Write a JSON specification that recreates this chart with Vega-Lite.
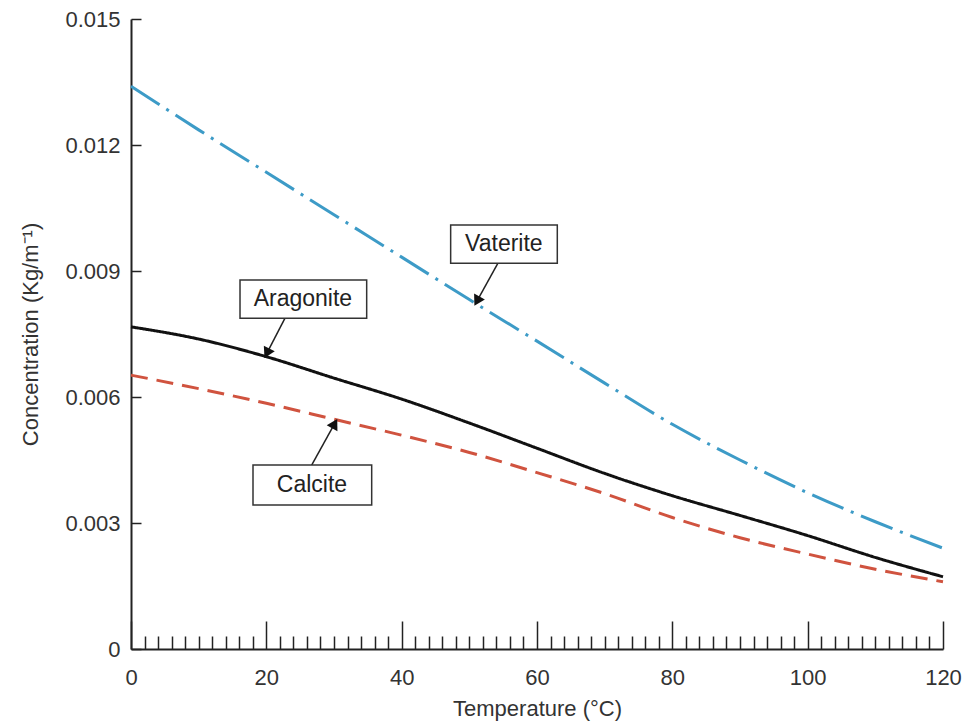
{
  "$schema": "https://vega.github.io/schema/vega-lite/v6.json",
  "width": 812,
  "height": 630,
  "autosize": "none",
  "padding": {"left": 131, "top": 19, "right": 20, "bottom": 77},
  "background": "white",
  "config": {
    "font": "Liberation Sans",
    "view": {"stroke": null}
  },
  "datasets": {
    "curves": [
      {"T": 0, "mineral": "Vaterite", "c": 0.01340},
      {"T": 10, "mineral": "Vaterite", "c": 0.01236},
      {"T": 20, "mineral": "Vaterite", "c": 0.01135},
      {"T": 30, "mineral": "Vaterite", "c": 0.01034},
      {"T": 40, "mineral": "Vaterite", "c": 0.00933},
      {"T": 50, "mineral": "Vaterite", "c": 0.00832},
      {"T": 60, "mineral": "Vaterite", "c": 0.00733},
      {"T": 70, "mineral": "Vaterite", "c": 0.00633},
      {"T": 80, "mineral": "Vaterite", "c": 0.00535},
      {"T": 90, "mineral": "Vaterite", "c": 0.00450},
      {"T": 100, "mineral": "Vaterite", "c": 0.00372},
      {"T": 110, "mineral": "Vaterite", "c": 0.00303},
      {"T": 120, "mineral": "Vaterite", "c": 0.00240},
      {"T": 0, "mineral": "Aragonite", "c": 0.00767},
      {"T": 10, "mineral": "Aragonite", "c": 0.00738},
      {"T": 20, "mineral": "Aragonite", "c": 0.00696},
      {"T": 30, "mineral": "Aragonite", "c": 0.00645},
      {"T": 40, "mineral": "Aragonite", "c": 0.00595},
      {"T": 50, "mineral": "Aragonite", "c": 0.00538},
      {"T": 60, "mineral": "Aragonite", "c": 0.00478},
      {"T": 70, "mineral": "Aragonite", "c": 0.00418},
      {"T": 80, "mineral": "Aragonite", "c": 0.00365},
      {"T": 90, "mineral": "Aragonite", "c": 0.00318},
      {"T": 100, "mineral": "Aragonite", "c": 0.00270},
      {"T": 110, "mineral": "Aragonite", "c": 0.00218},
      {"T": 120, "mineral": "Aragonite", "c": 0.00172},
      {"T": 0, "mineral": "Calcite", "c": 0.00652},
      {"T": 10, "mineral": "Calcite", "c": 0.00620},
      {"T": 20, "mineral": "Calcite", "c": 0.00585},
      {"T": 30, "mineral": "Calcite", "c": 0.00547},
      {"T": 40, "mineral": "Calcite", "c": 0.00509},
      {"T": 50, "mineral": "Calcite", "c": 0.00468},
      {"T": 60, "mineral": "Calcite", "c": 0.00420},
      {"T": 70, "mineral": "Calcite", "c": 0.00370},
      {"T": 80, "mineral": "Calcite", "c": 0.00313},
      {"T": 90, "mineral": "Calcite", "c": 0.00265},
      {"T": 100, "mineral": "Calcite", "c": 0.00226},
      {"T": 110, "mineral": "Calcite", "c": 0.00190},
      {"T": 120, "mineral": "Calcite", "c": 0.00160}
    ],
    "notes": [
      {"label": "Vaterite", "bx1": 47.24, "bx2": 63.0, "by1": 0.009184, "by2": 0.010095, "tx": 55.1, "ty": 0.00964, "ax1": 54.23, "ay1": 0.00919, "ax2": 51.25, "ay2": 0.00832, "angle": 208.7},
      {"label": "Aragonite", "bx1": 16.11, "bx2": 34.83, "by1": 0.007874, "by2": 0.008786, "tx": 25.4, "ty": 0.00833, "ax1": 22.76, "ay1": 0.00788, "ax2": 20.2, "ay2": 0.00708, "angle": 207},
      {"label": "Calcite", "bx1": 18.03, "bx2": 35.57, "by1": 0.003429, "by2": 0.004381, "tx": 26.75, "ty": 0.00390, "ax1": 26.7, "ay1": 0.00438, "ax2": 29.97, "ay2": 0.00533, "angle": 29}
    ]
  },
  "layer": [
    {
      "data": {"name": "curves"},
      "mark": {"type": "line", "interpolate": "monotone", "strokeWidth": 3, "strokeCap": "butt"},
      "encoding": {
        "x": {
          "field": "T", "type": "quantitative",
          "scale": {"domain": [0, 120], "nice": false},
          "axis": {
            "values": [0,2,4,6,8,10,12,14,16,18,20,22,24,26,28,30,32,34,36,38,40,42,44,46,48,50,52,54,56,58,60,62,64,66,68,70,72,74,76,78,80,82,84,86,88,90,92,94,96,98,100,102,104,106,108,110,112,114,116,118,120],
            "tickCount": 200,
            "tickSize": {"condition": {"test": "datum.value % 20 === 0", "value": -28}, "value": -13},
            "labelExpr": "datum.value % 20 === 0 ? format(datum.value, 'd') : ''",
            "labelOverlap": false,
            "labelFlush": false,
            "labelBound": false,
            "labelFontSize": 22,
            "labelColor": "#333",
            "labelPadding": 46,
            "domainColor": "#222",
            "domainWidth": 2,
            "tickColor": "#222",
            "tickWidth": 1.5,
            "grid": false,
            "title": "Temperature (°C)",
            "titleFontSize": 22,
            "titleFontWeight": "normal",
            "titleColor": "#333",
            "titlePadding": -5
          }
        },
        "y": {
          "field": "c", "type": "quantitative",
          "scale": {"domain": [0, 0.015], "nice": false},
          "axis": {
            "values": [0, 0.003, 0.006, 0.009, 0.012, 0.015],
            "labelExpr": "datum.value === 0 ? '0' : format(datum.value, '.3f')",
            "tickSize": -10,
            "labelFontSize": 22,
            "labelColor": "#333",
            "labelPadding": 21,
            "domainColor": "#222",
            "domainWidth": 2,
            "tickColor": "#222",
            "tickWidth": 1.5,
            "grid": false,
            "title": "Concentration (Kg/m⁻¹)",
            "titleFontSize": 22,
            "titleFontWeight": "normal",
            "titleColor": "#333",
            "titlePadding": 22
          }
        },
        "color": {
          "field": "mineral", "type": "nominal",
          "scale": {"domain": ["Vaterite", "Aragonite", "Calcite"], "range": ["#3d9bc7", "#111111", "#d0533f"]},
          "legend": null
        },
        "strokeDash": {
          "field": "mineral", "type": "nominal",
          "scale": {"domain": ["Vaterite", "Aragonite", "Calcite"], "range": [[34, 8, 3, 8], [1, 0], [17, 9]]},
          "legend": null
        }
      }
    },
    {
      "data": {"name": "notes"},
      "mark": {"type": "rule", "color": "#222", "strokeWidth": 1.5},
      "encoding": {
        "x": {"field": "ax1", "type": "quantitative"},
        "y": {"field": "ay1", "type": "quantitative"},
        "x2": {"field": "ax2"},
        "y2": {"field": "ay2"}
      }
    },
    {
      "data": {"name": "notes"},
      "mark": {"type": "point", "shape": "triangle", "filled": true, "color": "#111", "size": 150, "opacity": 1},
      "encoding": {
        "x": {"field": "ax2", "type": "quantitative"},
        "y": {"field": "ay2", "type": "quantitative"},
        "angle": {"field": "angle", "type": "quantitative", "scale": null}
      }
    },
    {
      "data": {"name": "notes"},
      "mark": {"type": "rect", "fill": "white", "stroke": "#333", "strokeWidth": 1.5},
      "encoding": {
        "x": {"field": "bx1", "type": "quantitative"},
        "x2": {"field": "bx2"},
        "y": {"field": "by1", "type": "quantitative"},
        "y2": {"field": "by2"}
      }
    },
    {
      "data": {"name": "notes"},
      "mark": {"type": "text", "fontSize": 23, "color": "#222", "align": "center", "baseline": "middle"},
      "encoding": {
        "x": {"field": "tx", "type": "quantitative"},
        "y": {"field": "ty", "type": "quantitative"},
        "text": {"field": "label"}
      }
    }
  ]
}
